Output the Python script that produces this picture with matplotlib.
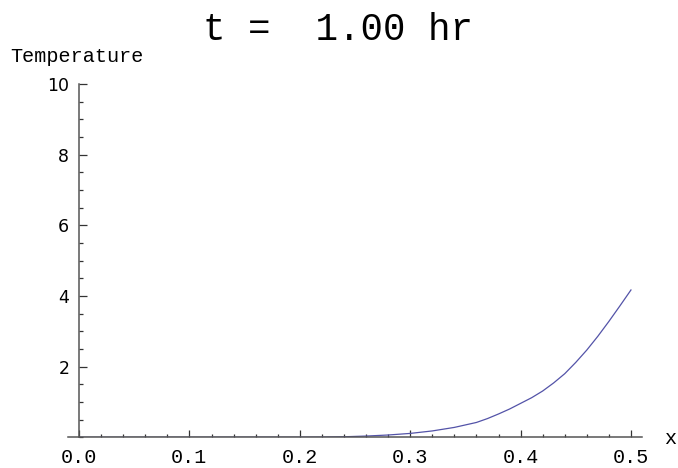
import numpy as np
import matplotlib.pyplot as plt
from matplotlib.ticker import MultipleLocator, FixedLocator

# Data
x_vals = [0.0, 0.20, 0.22, 0.24, 0.26, 0.28, 0.30, 0.32, 0.34, 0.36, 0.37,
          0.38, 0.39, 0.40, 0.41, 0.42, 0.43, 0.44, 0.45, 0.46, 0.47, 0.48,
          0.49, 0.50]
temp_vals = [0.0, 0.003, 0.006, 0.015, 0.035, 0.065, 0.11, 0.18, 0.28, 0.42,
             0.53, 0.66, 0.80, 0.96, 1.12, 1.31, 1.54, 1.80, 2.12, 2.47, 2.86,
             3.28, 3.72, 4.17]
x_ticks = [0.0, 0.1, 0.2, 0.3, 0.4, 0.5]
y_ticks = [2, 4, 6, 8, 10]

MONO = 'Liberation Mono'
AXIS_COLOR = '#333333'

fig = plt.figure(figsize=(6.78, 4.68), dpi=100)
ax = fig.add_axes([68 / 678, 1 - 437.3 / 468, (642 - 68) / 678, (437.3 - 84) / 468])

ax.plot(x_vals, temp_vals, color='#5353a8', lw=0.9)

ax.set_xlim(-0.01, 0.51)
ax.set_ylim(0, 10)

for side in ('top', 'right'):
    ax.spines[side].set_visible(False)
ax.spines['left'].set_position(('data', 0))
ax.spines['bottom'].set_position(('data', 0))
for side in ('left', 'bottom'):
    ax.spines[side].set_color('#555555')
    ax.spines[side].set_linewidth(1.1)

ax.xaxis.set_major_locator(FixedLocator(x_ticks))
ax.xaxis.set_minor_locator(FixedLocator(np.arange(0.02, 0.5, 0.02)))
ax.yaxis.set_major_locator(FixedLocator(y_ticks))
ax.yaxis.set_minor_locator(MultipleLocator(0.5))
ax.set_xticklabels([f'{v:.1f}' for v in x_ticks], fontfamily=MONO, fontsize=14.5)
ax.set_yticklabels([str(v) for v in y_ticks], fontfamily='DejaVu Sans', fontsize=12.5)

ax.tick_params(axis='x', which='major', direction='in', length=5, width=0.9,
               color=AXIS_COLOR, pad=8)
ax.tick_params(axis='x', which='minor', direction='in', length=2.5, width=0.9,
               color=AXIS_COLOR)
ax.tick_params(axis='y', which='major', direction='in', length=5.5, width=0.9,
               color=AXIS_COLOR, pad=7)
ax.tick_params(axis='y', which='minor', direction='in', length=3, width=0.9,
               color=AXIS_COLOR)

fig.text(0.498, 1 - 30 / 468, 't =  1.00 hr', fontfamily=MONO, fontsize=27,
         ha='center', va='center')
fig.text(10 / 678, 1 - 57 / 468, 'Temperature', fontfamily=MONO, fontsize=14.5,
         ha='left', va='center')
fig.text(664 / 678, 1 - 438 / 468, 'x', fontfamily=MONO, fontsize=14.5,
         ha='left', va='center')

fig.savefig('out.png', dpi=100)
